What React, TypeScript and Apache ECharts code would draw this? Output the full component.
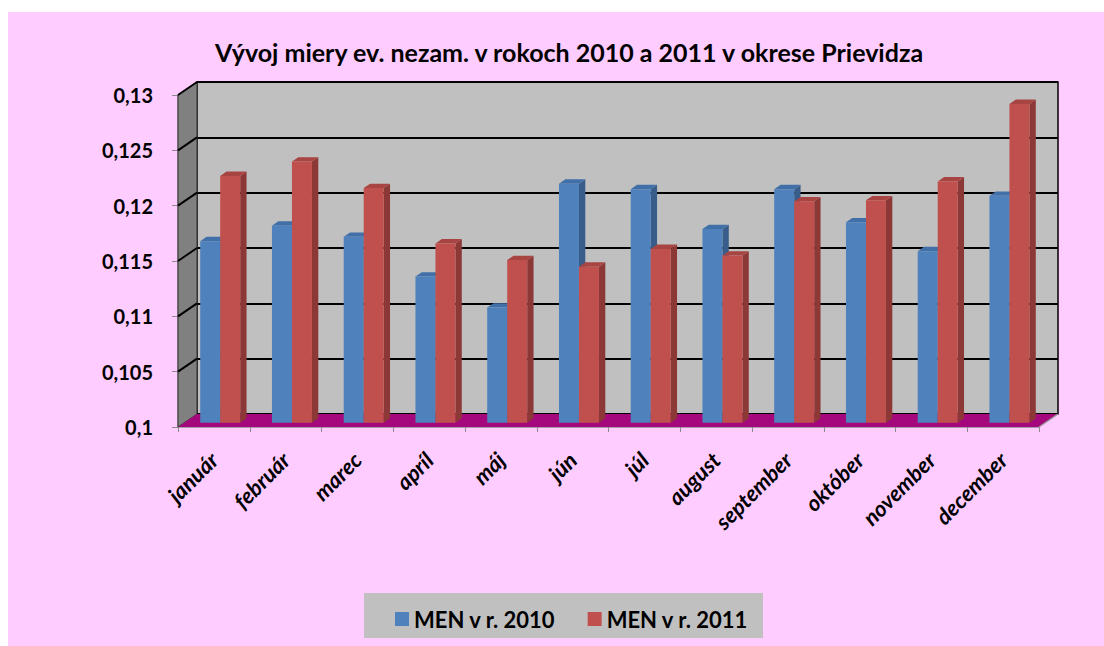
import React, { useEffect, useRef } from 'react';
import * as echarts from 'echarts';

const titleText = 'Vývoj miery ev. nezam. v rokoch 2010 a 2011 v okrese Prievidza';
const months = ['január', 'február', 'marec', 'apríl', 'máj', 'jún', 'júl', 'august', 'september', 'október', 'november', 'december'];
const seriesNames = ['MEN v r. 2010', 'MEN v r. 2011'];
const men2010 = [0.1164, 0.1178, 0.1168, 0.1132, 0.1104, 0.1216, 0.1211, 0.1175, 0.1211, 0.1181, 0.1155, 0.1205];
const men2011 = [0.1223, 0.1236, 0.1212, 0.1162, 0.1147, 0.1141, 0.1157, 0.1151, 0.1200, 0.1201, 0.1218, 0.1288];
const yTicks = [0.1, 0.105, 0.11, 0.115, 0.12, 0.125, 0.13];

const Y_MIN = 0.1;
const Y_MAX = 0.13;
const Y_STEP = 0.005;
const DX = 19;
const DY = -13;
const BW = 20;
const FONT = 'Lato, "Open Sans", sans-serif';

const colors = [
  { front: '#4F81BD', side: '#385D8A', top: '#4170A8' },
  { front: '#C0504D', side: '#8C3836', top: '#A84542' },
];

const fmt = (v: number) => String(+v.toFixed(3)).replace('.', ',');

export default function App() {
  const ref = useRef<HTMLDivElement>(null);
  useEffect(() => {
    if (!ref.current) return;
    const chart = echarts.init(ref.current, null, { renderer: 'svg' });

    const barSeries = [men2010, men2011].map((vals, s) => ({
      type: 'custom',
      name: seriesNames[s],
      xAxisIndex: 0,
      yAxisIndex: 0,
      z: 5,
      clip: false,
      itemStyle: { color: colors[s].front },
      data: vals.map((v, i) => [i, v]),
      renderItem: (params: any, api: any) => {
        const i = api.value(0);
        const v = api.value(1);
        const top = api.coord([i, v]);
        const base = api.coord([i, Y_MIN]);
        const ox = DX / 3;
        const oy = DY / 3;
        const dx = DX / 3;
        const dy = DY / 3;
        const x0 = top[0] + ox + (s === 0 ? -BW : 0);
        const x1 = x0 + BW;
        const yt = top[1] + oy;
        const yb = base[1] + oy;
        const c = colors[s];
        return {
          type: 'group',
          children: [
            { type: 'polygon', shape: { points: [[x1, yt], [x1 + dx, yt + dy], [x1 + dx, yb + dy], [x1, yb]] }, style: { fill: c.side } },
            { type: 'polygon', shape: { points: [[x0, yt], [x0 + dx, yt + dy], [x1 + dx, yt + dy], [x1, yt]] }, style: { fill: c.top } },
            { type: 'rect', shape: { x: x0, y: yt, width: BW, height: yb - yt }, style: { fill: c.front } },
          ],
        };
      },
    }));

    const wallSeries = {
      type: 'custom',
      name: 'walls',
      xAxisIndex: 0,
      yAxisIndex: 0,
      z: 1,
      clip: false,
      silent: true,
      data: [[0, Y_MIN]],
      renderItem: (params: any, api: any) => {
        const cs = params.coordSys;
        const L = cs.x, T = cs.y, R = cs.x + cs.width, B = cs.y + cs.height;
        const children: any[] = [
          { type: 'polygon', shape: { points: [[L, T], [L + DX, T + DY], [L + DX, B + DY], [L, B]] }, style: { fill: '#808080', stroke: '#333', lineWidth: 1 } },
          { type: 'polygon', shape: { points: [[L, B], [L + DX, B + DY], [R + DX, B + DY], [R, B]] }, style: { fill: '#A5087D' } },
          { type: 'line', shape: { x1: R, y1: B, x2: R + DX, y2: B + DY }, style: { stroke: '#999', lineWidth: 1.5 } },
        ];
        yTicks.slice(1).forEach((t) => {
          const y = api.coord([0, t])[1];
          children.push({ type: 'line', shape: { x1: L, y1: y, x2: L + DX, y2: y + DY }, style: { stroke: '#000', lineWidth: 2 } });
        });
        return { type: 'group', children };
      },
    };

    chart.setOption({
      animation: false,
      backgroundColor: '#FFCCFF',
      title: {
        text: titleText,
        left: 556,
        textAlign: 'center',
        top: 22,
        textStyle: { fontFamily: FONT, fontSize: 25, fontWeight: 'bold', color: '#000' },
      },
      legend: {
        data: seriesNames.map((n) => ({ name: n, icon: 'rect' })),
        left: 382,
        top: 591,
        itemWidth: 14,
        itemHeight: 14,
        itemGap: 32,
        textStyle: { fontFamily: FONT, fontSize: 22, fontWeight: 'bold', color: '#000' },
      },
      graphic: [
        { type: 'rect', left: 356, top: 581, shape: { width: 399, height: 45 }, style: { fill: '#C0C0C0' }, z: -1 },
      ],
      grid: [
        { left: 170, top: 83, width: 861, height: 332 },
        { left: 170 + DX, top: 83 + DY, width: 861, height: 332, show: true, backgroundColor: '#C0C0C0', borderColor: '#000', borderWidth: 1.5 },
      ],
      xAxis: [
        {
          type: 'category',
          gridIndex: 0,
          data: months,
          boundaryGap: true,
          axisLine: { show: true, lineStyle: { color: '#8c8c8c', width: 1.5 } },
          axisTick: { show: true, length: 5, lineStyle: { color: '#8c8c8c' } },
          axisLabel: {
            interval: 0,
            rotate: 45,
            margin: 29,
            fontFamily: FONT,
            fontSize: 22,
            fontWeight: 'bold',
            fontStyle: 'italic',
            color: '#000',
          },
        },
        { type: 'category', gridIndex: 1, data: months, show: false },
      ],
      yAxis: [
        {
          type: 'value',
          gridIndex: 0,
          min: Y_MIN,
          max: Y_MAX,
          interval: Y_STEP,
          splitLine: { show: false },
          axisLine: { show: true, lineStyle: { color: '#8c8c8c', width: 1.5 } },
          axisTick: { show: true, length: 6, lineStyle: { color: '#8c8c8c' } },
          axisLabel: {
            margin: 25,
            fontFamily: FONT,
            fontSize: 20,
            fontWeight: 'bold',
            color: '#000',
            formatter: (v: number) => fmt(v),
          },
        },
        {
          type: 'value',
          gridIndex: 1,
          min: Y_MIN,
          max: Y_MAX,
          interval: Y_STEP,
          axisLine: { show: false },
          axisTick: { show: false },
          axisLabel: { show: false },
          splitLine: { show: true, lineStyle: { color: '#000', width: 2 } },
        },
      ],
      series: [wallSeries, ...barSeries],
    });
    return () => chart.dispose();
  }, []);
  return (
    <div
      ref={ref}
      style={{ position: 'fixed', left: 8, top: 12, width: 1096, height: 634, background: '#FFCCFF' }}
    />
  );
}
